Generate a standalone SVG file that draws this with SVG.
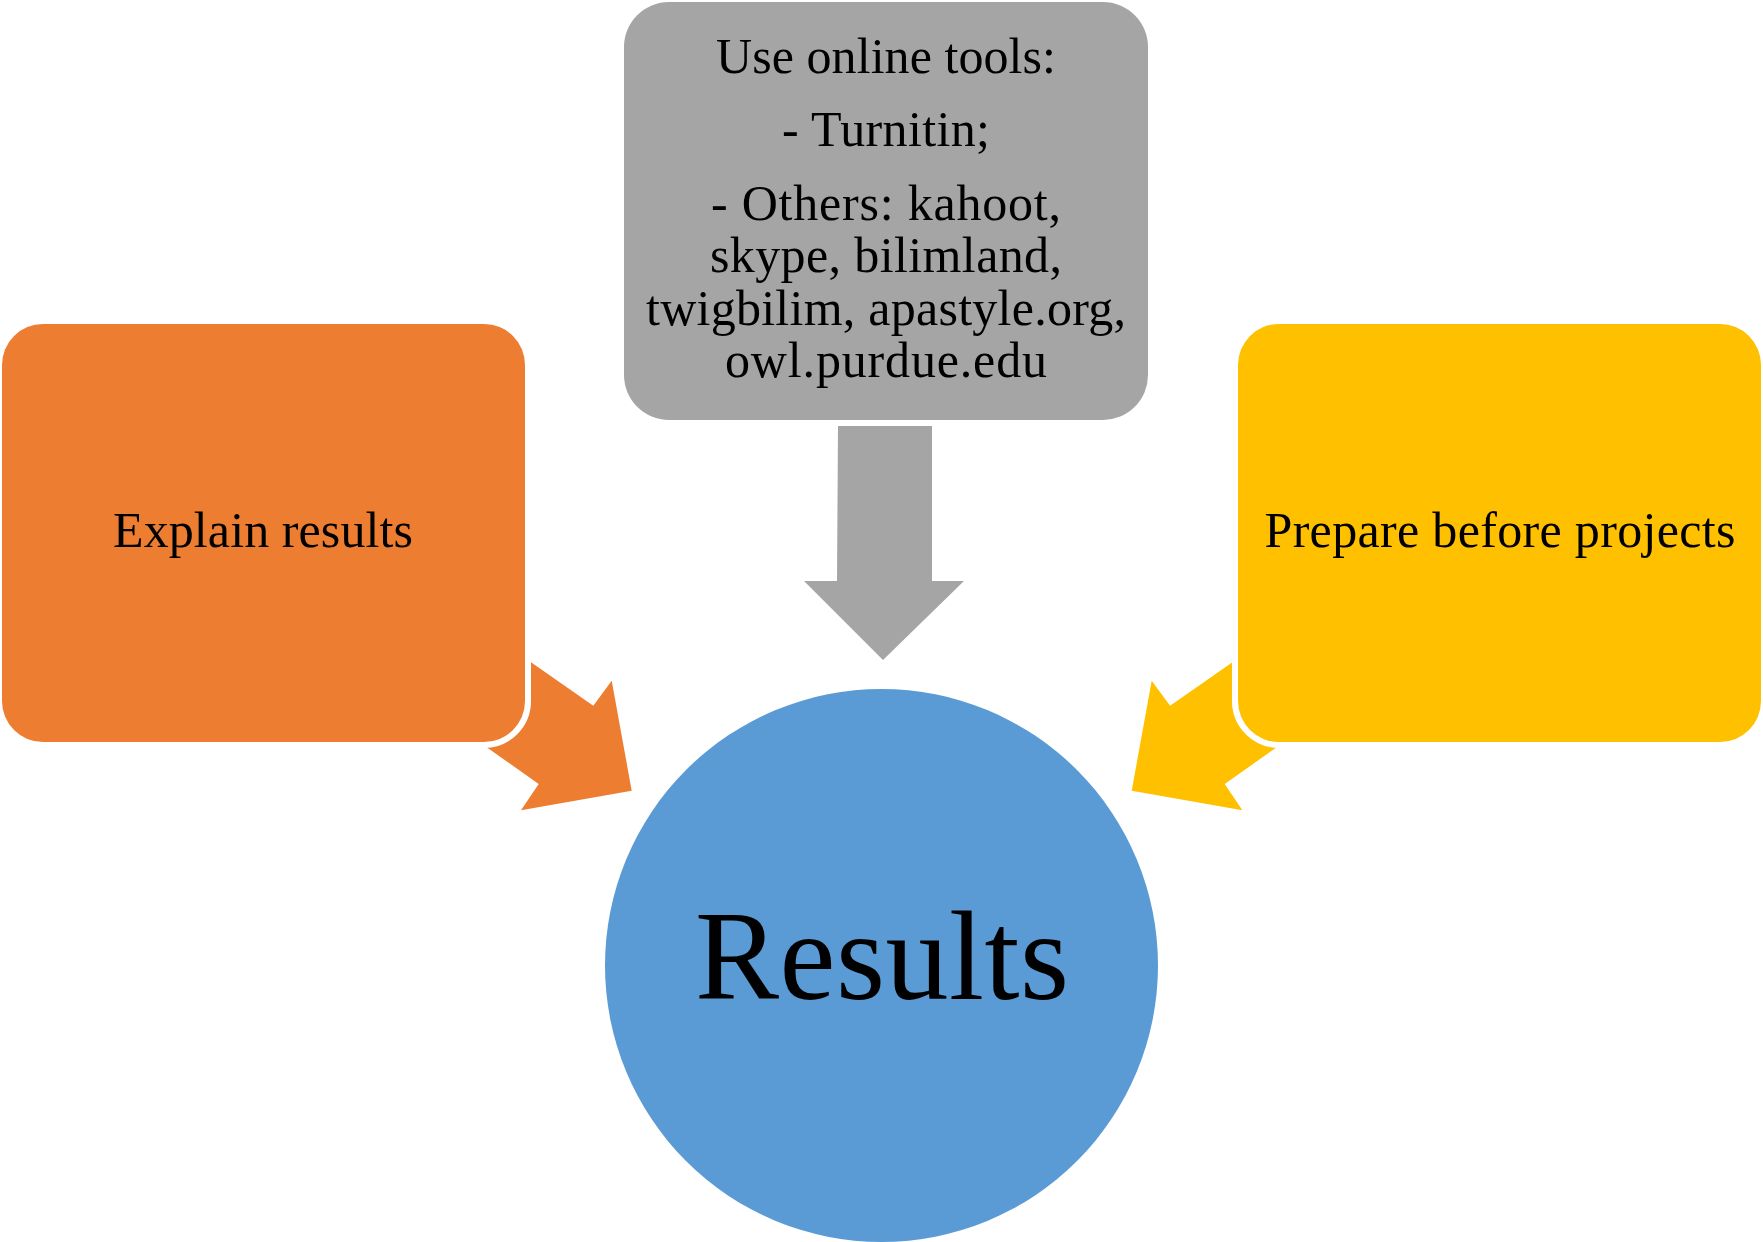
<svg xmlns="http://www.w3.org/2000/svg" width="1763" height="1242" viewBox="0 0 1763 1242">
  <style>
    .lbl { font-family: "Liberation Serif", "Times New Roman", serif; fill: #000000; text-anchor: middle; }
    .box { stroke: #FFFFFF; stroke-width: 12; paint-order: stroke; }
  </style>
  <rect x="0" y="0" width="1763" height="1242" fill="#FFFFFF"/>
  <g id="connectors">
    <polygon fill="#A5A5A5" points="838,426 932,426 932,581 964,581 883,660 804,581 837,581"/>
    <polygon fill="#ED7D31" points="470,620 531.7,662.7 593.3,705.7 611.7,680.7 631.7,790.7 521,810.3 538.7,784 486.7,747.3 434.7,710.6"/>
    <polygon fill="#FFC000" points="1293.3,620 1231.7,662.7 1170.1,705.7 1151.7,680.7 1131.7,790.7 1242.4,810.3 1224.7,784 1276.7,747.3 1328.7,710.6"/>
  </g>
  <g id="node-tools">
    <rect x="624" y="2" width="524" height="418" rx="45" fill="#A5A5A5"/>
    <text class="lbl" font-size="50" x="886" y="73" textLength="340" lengthAdjust="spacing">Use online tools:</text>
    <text class="lbl" font-size="50" x="886" y="146" textLength="208" lengthAdjust="spacing">- Turnitin;</text>
    <text class="lbl" font-size="50" x="886" y="220" textLength="350" lengthAdjust="spacing">- Others: kahoot,</text>
    <text class="lbl" font-size="50" x="886" y="272" textLength="352" lengthAdjust="spacing">skype, bilimland,</text>
    <text class="lbl" font-size="50" x="886" y="325" textLength="480" lengthAdjust="spacing">twigbilim, apastyle.org,</text>
    <text class="lbl" font-size="50" x="886" y="377" textLength="322" lengthAdjust="spacing">owl.purdue.edu</text>
  </g>
  <g id="node-explain">
    <rect class="box" x="2" y="324" width="523" height="418" rx="41" fill="#ED7D31"/>
    <text class="lbl" font-size="50" x="263" y="547" textLength="300" lengthAdjust="spacing">Explain results</text>
  </g>
  <g id="node-prepare">
    <rect class="box" x="1238" y="324" width="523" height="418" rx="41" fill="#FFC000"/>
    <text class="lbl" font-size="50" x="1500" y="547" textLength="471" lengthAdjust="spacing">Prepare before projects</text>
  </g>
  <g id="node-results">
    <circle cx="881.5" cy="965.5" r="276.5" fill="#5B9BD5"/>
    <text class="lbl" font-size="126" x="882" y="999" textLength="374" lengthAdjust="spacing">Results</text>
  </g>
</svg>
